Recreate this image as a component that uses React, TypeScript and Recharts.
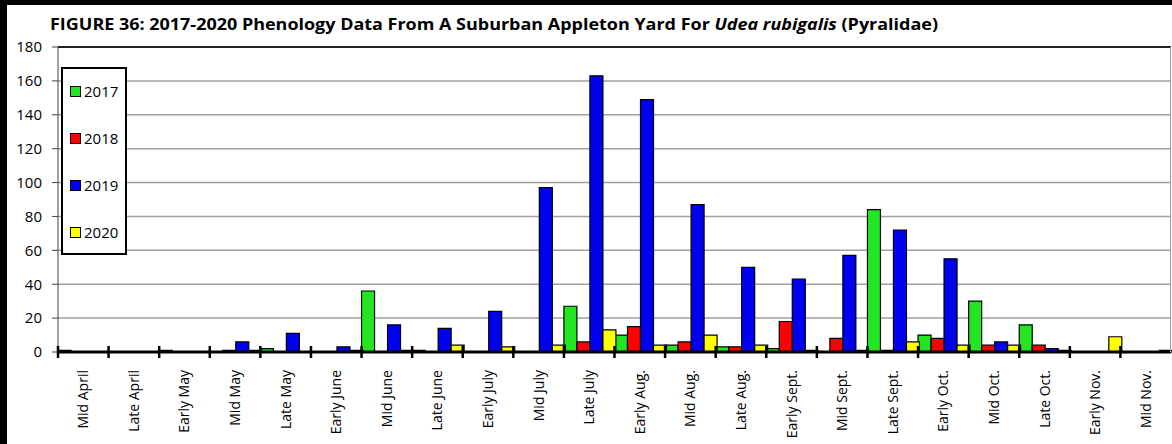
import React from 'react';
import { BarChart, Bar, XAxis, YAxis, CartesianGrid, ReferenceLine } from 'recharts';

const categories = [
  'Mid April', 'Late April', 'Early May', 'Mid May', 'Late May', 'Early June', 'Mid June',
  'Late June', 'Early July', 'Mid July', 'Late July', 'Early Aug.', 'Mid Aug.', 'Late Aug.',
  'Early Sept.', 'Mid Sept.', 'Late Sept.', 'Early Oct.', 'Mid Oct.', 'Late Oct.', 'Early Nov.', 'Mid Nov.',
];
const s2017 = [1, 0, 1, 0, 2, 0, 36, 1, 0, 0, 27, 10, 4, 3, 2, 0, 84, 10, 30, 16, 0, 0];
const s2018 = [0, 0, 0, 1, 0, 0, 0, 0, 0, 0, 6, 15, 6, 3, 18, 8, 1, 8, 4, 4, 0, 0];
const s2019 = [0, 0, 0, 6, 11, 3, 16, 14, 24, 97, 163, 149, 87, 50, 43, 57, 72, 55, 6, 2, 0, 0];
const s2020 = [0, 0, 0, 1, 0, 1, 1, 4, 3, 4, 13, 4, 10, 4, 1, 1, 6, 4, 4, 1, 9, 1];
const yTicks = [0, 20, 40, 60, 80, 100, 120, 140, 160, 180];
const seriesNames = ['2017', '2018', '2019', '2020'];
const seriesColors = ['#22e622', '#ff0000', '#0000f0', '#ffff00'];

const data = categories.map((c, i) => ({
  name: c,
  '2017': s2017[i],
  '2018': s2018[i],
  '2019': s2019[i],
  '2020': s2020[i],
}));

const W = 1172;
const H = 444;
const LEFT = 58;
const RIGHT_MARGIN = 1;
const TOP = 47;
const XAXIS_H = 92;
const AXIS_Y = H - XAXIS_H;
const BAND = (W - LEFT - RIGHT_MARGIN) / categories.length;
const FONT = '"Open Sans", "Liberation Sans", sans-serif';

const XTick = (props: any) => {
  const { x, payload } = props;
  const bx = x - BAND / 2;
  const ty = AXIS_Y + 18;
  return (
    <g>
      <line x1={bx} x2={bx} y1={AXIS_Y - 6} y2={AXIS_Y + 6} stroke="#000" strokeWidth={2.5} />
      <text
        x={x + 5}
        y={ty}
        textAnchor="end"
        transform={`rotate(-90, ${x + 5}, ${ty})`}
        fontSize={14}
        fontFamily={FONT}
        fill="#000"
      >
        {payload.value}
      </text>
    </g>
  );
};

const LegendBox = () => (
  <div
    style={{
      position: 'absolute',
      left: 61,
      top: 67,
      width: 62,
      height: 184,
      border: '2px solid #000',
      background: '#fff',
      boxSizing: 'content-box',
      fontFamily: FONT,
      fontSize: 15,
      color: '#000',
    }}
  >
    {seriesNames.map((n, i) => (
      <div
        key={n}
        style={{
          position: 'absolute',
          left: 7,
          top: 12 + i * 47,
          display: 'flex',
          alignItems: 'center',
          height: 20,
          lineHeight: '20px',
        }}
      >
        <span
          style={{
            display: 'inline-block',
            width: 9,
            height: 9,
            background: seriesColors[i],
            border: '1px solid #000',
            marginRight: 3,
          }}
        />
        <span>{n}</span>
      </div>
    ))}
  </div>
);

export default function App() {
  return (
    <div
      style={{
        position: 'absolute',
        left: 0,
        top: 0,
        width: W,
        height: H,
        background: '#fff',
        overflow: 'hidden',
      }}
    >
      <BarChart
        width={W}
        height={H}
        data={data}
        margin={{ top: TOP, right: RIGHT_MARGIN, left: 0, bottom: 0 }}
        barCategoryGap={0}
        barGap={0}
      >
        <CartesianGrid vertical={false} stroke="#a0a0a0" strokeWidth={1.5} />
        <XAxis
          dataKey="name"
          interval={0}
          height={XAXIS_H}
          axisLine={{ stroke: '#000', strokeWidth: 3 }}
          tickLine={false}
          tick={<XTick />}
        />
        <YAxis
          domain={[0, 180]}
          ticks={yTicks}
          width={LEFT}
          tickSize={6}
          tickMargin={10}
          axisLine={{ stroke: '#444', strokeWidth: 1 }}
          tickLine={{ stroke: '#444' }}
          tick={{ fill: '#000', fontSize: 15, fontFamily: FONT }}
          interval={0}
        />
        <ReferenceLine y={180} stroke="#222" strokeWidth={2} />
        {seriesNames.map((n, i) => (
          <Bar
            key={n}
            dataKey={n}
            fill={seriesColors[i]}
            stroke="#000"
            strokeWidth={1.2}
            isAnimationActive={false}
          />
        ))}
      </BarChart>
      <LegendBox />
      <svg
        width={W}
        height={40}
        style={{ position: 'absolute', left: 0, top: 0 }}
      >
        <text
          x={50}
          y={30}
          fontFamily={FONT}
          fontWeight={700}
          fontSize={16}
          fill="#000"
          textLength={888}
          lengthAdjust="spacingAndGlyphs"
        >
          <tspan>FIGURE 36: 2017-2020 Phenology Data From A Suburban Appleton Yard For </tspan>
          <tspan fontStyle="italic">Udea rubigalis</tspan>
          <tspan> (Pyralidae)</tspan>
        </text>
      </svg>
      <div style={{ position: 'absolute', left: 0, top: 0, width: 7, height: H, background: '#000' }} />
      <div style={{ position: 'absolute', left: 0, top: 0, width: W, height: 5, background: '#000' }} />
      <div style={{ position: 'absolute', left: W - 2, top: TOP, width: 1, height: AXIS_Y - TOP, background: '#a0a0a0' }} />
    </div>
  );
}
